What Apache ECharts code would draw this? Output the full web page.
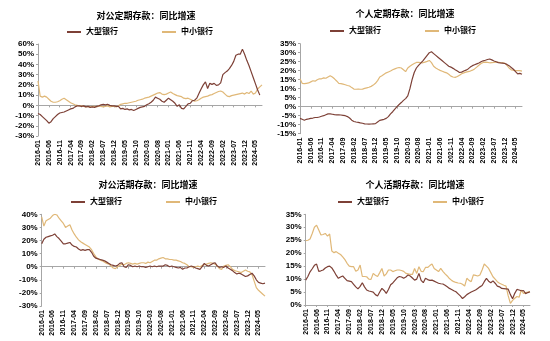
<!DOCTYPE html>
<html><head><meta charset="utf-8">
<script src="https://cdn.jsdelivr.net/npm/echarts@6/dist/echarts.min.js"></script>
<style>html,body{margin:0;padding:0;background:#fff}#c{width:550px;height:341px}</style>
</head><body><div id="c"></div>
<script>
// ---------- data ----------
function buildMonths(){var m=[];for(var y=2016;y<=2024;y++){for(var k=1;k<=12;k++){if(y===2024&&k>8)break;m.push(y+'-'+(k<10?'0'+k:k));}}return m;}
const months = buildMonths(); // 2016-01 .. 2024-08
const titles = ['对公定期存款：同比增速','个人定期存款：同比增速','对公活期存款：同比增速','个人活期存款：同比增速'];
const seriesNames = ['大型银行','中小银行'];

const corpTimeLarge = [-8,-9,-11,-13,-15,-17.5,-16,-13,-11,-9,-7.5,-7,-6.5,-5.5,-4.5,-3.5,-3,-1.5,-0.5,-0.5,-1,-0.5,-1.5,-1,-2,-1.5,-2,-1,-0.5,0.5,1,0.5,1,0,-0.5,-0.5,-1,-1,-3.5,-3,-4,-3.5,-4.5,-4,-5,-4,-3,-2,-1.5,-1,0.5,1.5,3,5,8,7,6,4,3,5,7,5.5,4,2,-1,0.5,-3,-3.5,-1,1.5,2,4.5,5,7,11.5,16,20,23,16.5,21.5,20.5,21.5,19.5,20,22,30,32,33.5,36,39,43,49,50,50,55,50,44,39,33,27,21,15,10];
const corpTimeSmall = [24,9,8,9,8,6,4,3,3,3.5,4.5,6,7,5.5,4,2.5,1.5,0.5,0,-0.5,-0.5,-1,-1.5,-1,-1.5,-1,-1,-1.5,-0.5,-1,-1.5,-1,-0.5,-1.5,-1,-1,-1.5,-0.5,1,1.5,2,2,2.5,3,3.5,4,5,5.5,6,7,7.5,8,9,10,11,12,12.5,11,10.5,11,12,13,11.5,10.5,9.5,9,8.5,7,6.5,7,6,5,4,4.5,5.5,7,8,8.5,9,10,10.5,11.5,12.5,13.5,14,13,11,9,8.5,9.5,10,10.5,11,11.5,12,11,12.5,11.5,14,11,12,16,18,20];

const persTimeLarge = [-6.5,-7,-7.5,-7,-6.8,-6.5,-6.3,-6,-6,-5.7,-5.3,-5,-4.5,-4,-4,-4.2,-4.4,-4.5,-4.5,-4.6,-4.8,-5,-5.5,-6.3,-7.5,-8.2,-8.5,-8.7,-9,-9.2,-9.5,-9.6,-9.7,-9.6,-9.5,-9.4,-8.5,-7.6,-7.3,-7,-6.5,-5.5,-4,-2.8,-1.3,0,1.2,2.3,3.5,4.5,6,10,15,19,21.5,23,24.2,25.5,27,28.5,30,30.5,29.5,28.5,27.5,26.5,25.5,24.5,23.5,22.5,22,21.3,20.5,19.8,19,19.2,19.8,20.3,21,22,22.8,23.3,23.8,24.3,25,25.5,25.8,26.2,26.5,26,25.4,25,24.5,24.3,24.2,24,23.5,22.8,21.8,20.8,19.5,18.2,18.5,18];
const persTimeSmall = [15.5,13,12.8,13,13.2,13.8,14.4,14.2,15,15.5,15.5,16,15.8,16.5,17.2,16.5,15.5,14.3,13,12.8,12.5,12.2,11.8,11.5,10.6,9.8,9.7,9.8,9.7,9.8,10.2,10.5,10.8,11.3,12,13,14.5,16.5,17.2,18,18.8,19.3,19.8,20.5,21,21.5,21.8,21.5,20.5,19.5,21.5,22.5,23.3,24,24.6,24.6,24.5,24.4,24.8,25.2,25.7,24.5,22.5,21.5,20.8,20.2,19.7,19.2,18.8,18,17,16.5,16.3,16.8,17.5,18.3,18.8,19.2,19.5,19.8,20.3,21,22,23,24,24.6,24.8,24.6,24.4,24.5,24.6,24.8,24.7,24.5,24.4,24.2,23,21.5,20.5,20.3,20,20,20,19.8];

const corpDemLarge = [17.5,21,22.5,23,23.5,24,25,23,21.5,19.5,17.5,17.5,18,18.5,16.5,15.5,15,13.5,12.5,13,12.5,13,13,11,8,6.5,6,5.5,5,4.5,3.5,2.5,1.5,1,0.5,1,2.5,3,0,-0.5,1.5,1,0,0.5,0,0.5,0,0,-0.5,0,0.5,0,0.5,0,0.5,0.5,0.5,1.5,1,0,0.5,0,-0.5,-1,-0.5,-2,-1,-1,0,0.5,0,-1,-1.5,-2,0,2.5,1,0.5,1.5,2.5,3,0.5,-0.5,0,-0.5,0.5,-1,-2,-3,-4.5,-5.5,-5,-5.5,-6.5,-7.5,-7,-6,-5,-7,-10,-12,-12.5,-13,-12.5];
const corpDemSmall = [38,31,35,36,37,39,40,39.5,37,35,33,30,31,32,28,25,22.5,20.5,19,18,17,16,15,13,10,7.5,6,5,4.5,3.5,2.5,2,0.5,-1,-1.5,0,1,2,1.5,2.5,3,2.5,2,2.5,2,2.5,3,3,2.5,3.5,3,4,5,5,6,6.5,7,6,6,5.5,5.5,5,5,4.5,4,3,2.5,1.5,0,0,-0.5,0,0.5,0,1,1.5,2,2.5,3,2.5,2,0.5,-1.5,-2,0.5,1,1.5,0,-2,-3,-3.5,-4,-4.5,-3.5,-2.5,-3.5,-4,-6,-11,-16,-18,-19.5,-21,-22.5];

const persDemLarge = [9.6,11,12.8,14,15.3,15.8,13,13.2,13.5,14.3,14.8,15,14.3,13,11.5,10.3,10.8,11.2,10.3,9.4,9.2,9,8,7,6.2,7.2,8.6,7,5.8,5.4,5.2,5,4,3.5,5,6.4,5.6,4.5,6,7.8,8.5,9.5,10.5,11,10.8,10.3,10.8,11.6,11.2,10.4,9.6,10,12.2,9.5,8.6,10.3,9.8,9.5,9.6,9.2,8.8,8.4,8.2,8.1,7.6,7,6.4,6,5.5,5.1,4.3,3.5,2.5,3.2,4,4.5,5,5.4,5.8,6.4,7,7.5,9,10.3,9.2,8.6,9.3,8.4,7.3,7,6.4,6.3,6.2,6.1,4,2.4,4.5,6,5.8,5.5,5.6,4.4,4.8,5.1];
const persDemSmall = [24.8,25,25.5,27.6,30,30.8,28.9,27,27.2,27.6,26.6,27.4,20.8,20.2,20.6,20,19.5,18.6,17.5,16.1,15,14.8,14.8,13,13.5,15.4,11,11,10.9,10,9.9,12.2,11.5,11,12.5,14.1,11.2,12,13.5,13.5,12.9,13.2,13.5,13.5,13.3,13,12.2,12,11.8,11.8,14.1,12.2,14.8,13,12.9,14.5,14.5,15.2,15.8,14.1,13.5,12.9,14.1,13,12,11.2,10.2,9.5,9,8.7,8.5,8.4,8,7.3,10.3,9.5,9,11.6,11.4,11.2,11.6,13.5,15.8,15,14.1,12.5,10.9,10,9,8.4,8,7.6,7.3,3.5,0.6,1.8,2.6,3.3,3,5.8,4.5,4.8,5,5.1];

const yMin = [-30,-15,-30,0];
const yMax = [60,35,40,35];
const yStep = [10,5,10,5];

// ---------- layout ----------
const BROWN = '#7d4036', TAN = '#e0b878';
const FONT = '"Liberation Sans","Noto Sans CJK SC",Arial,sans-serif';
const grids = [
  {left:38, top:44, width:224, height:92},
  {left:300, top:43.7, width:222, height:90},
  {left:41.7, top:214.3, width:223.3, height:91.7},
  {left:305.7, top:214.3, width:224.3, height:90.7}
];
const titleCenter = [[146,16.7],[405,15],[148,186],[415,185.7]];
const legendPos = [[67,28],[330,27],[71,198],[338,198]];
const data = [[corpTimeLarge,corpTimeSmall],[persTimeLarge,persTimeSmall],[corpDemLarge,corpDemSmall],[persDemLarge,persDemSmall]];

const option = {animation:false, backgroundColor:'#fff', graphic:[], legend:[], grid:[], xAxis:[], yAxis:[], series:[]};
const axisCol = '#a6a6a6';
for (let p=0;p<4;p++){
  option.grid.push(Object.assign({containLabel:false}, grids[p]));
  option.graphic.push({type:'text', x:titleCenter[p][0], y:titleCenter[p][1], silent:true,
    style:{text:titles[p], fill:'#000', font:'bold 9px '+FONT, textAlign:'center', textVerticalAlign:'middle', verticalAlign:'middle'}});
  option.legend.push({left:legendPos[p][0], top:legendPos[p][1], itemGap:44, itemWidth:14, itemHeight:2, icon:'rect',
    data:seriesNames, textStyle:{fontSize:8, fontWeight:'bold', color:'#000', fontFamily:FONT}, padding:0});
  const zeroInside = yMin[p] < 0;
  option.xAxis.push({type:'category', gridIndex:p, data:months, boundaryGap:false, position:'bottom',
    axisLine:{show:!zeroInside, onZero:false, lineStyle:{color:axisCol, width:1}},
    axisTick:{show:!zeroInside, interval:4, length:2, lineStyle:{color:axisCol}},
    axisLabel:{rotate:90, interval:4, fontSize:7, fontWeight:'bold', color:'#000', margin:4, fontFamily:FONT},
    splitLine:{show:false}});
  const labelAxisIdx = option.xAxis.length-1;
  if (zeroInside){
    option.xAxis.push({type:'category', gridIndex:p, data:months, boundaryGap:false, position:'top',
      axisLine:{show:true, onZero:true, lineStyle:{color:axisCol, width:1}},
      axisTick:{show:true, inside:true, interval:4, length:2, lineStyle:{color:axisCol}},
      axisLabel:{show:false}, splitLine:{show:false}});
  }
  option.yAxis.push({type:'value', gridIndex:p, min:yMin[p], max:yMax[p], interval:yStep[p],
    axisLine:{show:true, lineStyle:{color:axisCol}}, axisTick:{show:true, length:2, lineStyle:{color:axisCol}},
    splitLine:{show:false},
    axisLabel:{formatter:'{value}%', fontSize:8, fontWeight:'bold', color:'#000', margin:4, fontFamily:FONT}});
  [BROWN,TAN].forEach(function(col,k){
    option.series.push({type:'line', name:seriesNames[k], xAxisIndex:labelAxisIdx, yAxisIndex:p,
      data:data[p][k], showSymbol:false, symbol:'none', color:col, z: k===0?3:2,
      lineStyle:{color:col, width:1.2}});
  });
}
const chart = echarts.init(document.getElementById('c'), null, {renderer:'canvas'});
chart.setOption(option);
</script></body></html>
